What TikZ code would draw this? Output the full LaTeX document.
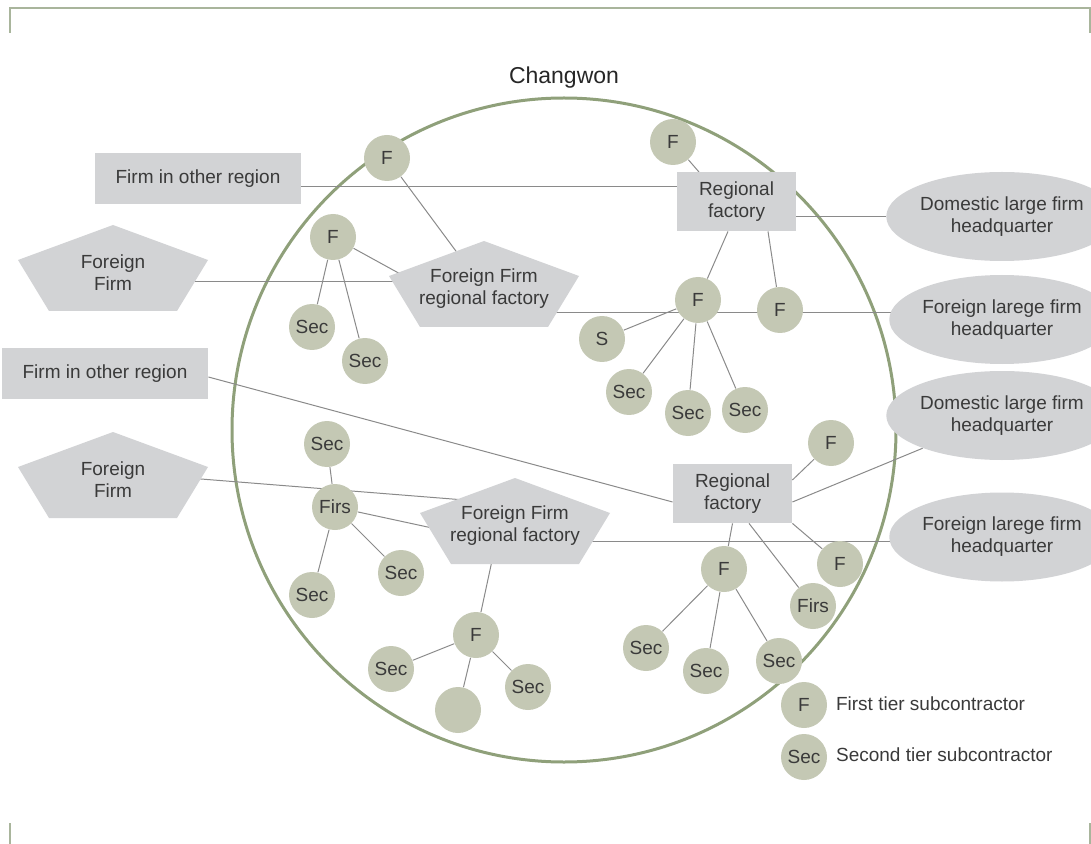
\documentclass[tikz,border=0pt]{standalone}
\usepackage{fontspec}
\setmainfont{Liberation Sans}
\usepackage{xcolor}
\usepackage{tikz}
\usetikzlibrary{calc,shapes.geometric}
\definecolor{boxgray}{HTML}{D2D3D5}
\definecolor{subfill}{HTML}{C4C8B4}
\definecolor{ring}{HTML}{8FA07A}
\definecolor{linegray}{HTML}{8A8A8A}
\definecolor{framegreen}{HTML}{A9B59C}
\definecolor{textgray}{HTML}{3A3A3A}
\pgfdeclarelayer{bg}
\pgfdeclarelayer{mid}
\pgfsetlayers{bg,mid,main}
\newcommand{\lab}{\fontsize{9.5}{11}\selectfont}
% pentagon behind a text node
\newcommand{\pentfill}[1]{\fill[boxgray] ($(#1)+(0,-48)$) -- ($(#1)+(95,-13)$) -- ($(#1)+(64,38)$) -- ($(#1)+(-64,38)$) -- ($(#1)+(-95,-13)$) -- cycle;}
\tikzset{
  firm/.style={circle, fill=subfill, minimum size=23pt, inner sep=0pt, text=textgray, font=\lab},
  box/.style={rectangle, fill=boxgray, inner sep=0pt, align=center, text=textgray, font=\lab},
  hq/.style={ellipse, fill=boxgray, minimum width=96pt, minimum height=44.5pt, inner sep=0pt, align=center, text=textgray, font=\lab},
  pent/.style={inner sep=1pt, align=center, text=textgray, font=\lab},
  link/.style={draw=linegray, line width=0.5pt},
}
\begin{document}
\begin{tikzpicture}[x=0.5pt, y=-0.5pt]
  \useasboundingbox (0,0) rectangle (1091,844);
  \node[text=black!85, font=\fontsize{11.5}{13}\selectfont] (title) at (564,78) {Changwon};

  % outside boxes
  \node[box, minimum width=103pt, minimum height=25.5pt] (fo1) at (198,178.5) {Firm in other region};
  \node[box, minimum width=103pt, minimum height=25.5pt] (fo2) at (105,373.5) {Firm in other region};
  \node[pent] (ff1) at (113,273) {Foreign\\Firm};
  \node[pent] (ff2) at (113,480) {Foreign\\Firm};
  \node[hq] (dom1) at (1002,216.5) {Domestic large firm\\headquarter};
  \node[hq] (for1) at (1002,319.5) {Foreign larege firm\\headquarter};
  \node[hq] (dom2) at (1002,415.5) {Domestic large firm\\headquarter};
  \node[hq] (for2) at (1002,537) {Foreign larege firm\\headquarter};

  % factories
  \node[box, minimum width=59.5pt, minimum height=29.5pt] (rf1) at (736.5,201.5) {Regional\\factory};
  \node[box, minimum width=59.5pt, minimum height=29.5pt] (rf2) at (732.5,493.5) {Regional\\factory};
  \node[pent] (ffrf1) at (484,289) {Foreign Firm\\regional factory};
  \node[pent] (ffrf2) at (515,526) {Foreign Firm\\regional factory};

  % subcontractors, upper half
  \node[firm] (fA) at (387,158) {F};
  \node[firm] (fB) at (333,237) {F};
  \node[firm] (secA) at (312,327) {Sec};
  \node[firm] (secB) at (365,361) {Sec};
  \node[firm] (fC) at (673,142) {F};
  \node[firm] (fD) at (698,300) {F};
  \node[firm] (fE) at (780,310) {F};
  \node[firm] (sA) at (602,339) {S};
  \node[firm] (secC) at (629,392) {Sec};
  \node[firm] (secD) at (688,413) {Sec};
  \node[firm] (secE) at (745,410) {Sec};

  % subcontractors, lower half
  \node[firm] (secF) at (327,444) {Sec};
  \node[firm] (firsA) at (335,507) {Firs};
  \node[firm] (secG) at (401,573) {Sec};
  \node[firm] (secH) at (312,595) {Sec};
  \node[firm] (fF) at (476,635) {F};
  \node[firm] (secI) at (391,669) {Sec};
  \node[firm] (blank) at (458,710) {};
  \node[firm] (secJ) at (528,687) {Sec};
  \node[firm] (fG) at (831,443) {F};
  \node[firm] (fH) at (840,564) {F};
  \node[firm] (firsB) at (813,606) {Firs};
  \node[firm] (fI) at (724,569) {F};
  \node[firm] (secK) at (646,648) {Sec};
  \node[firm] (secL) at (706,671) {Sec};
  \node[firm] (secM) at (779,661) {Sec};

  % legend
  \node[firm] (legF) at (804,705) {F};
  \node[firm] (legSec) at (804,757) {Sec};
  \node[anchor=west, text=textgray, font=\lab] (legFtxt) at (829,704) {First tier subcontractor};
  \node[anchor=west, text=textgray, font=\lab] (legSectxt) at (829,755) {Second tier subcontractor};

  \begin{pgfonlayer}{mid}
    \pentfill{ff1}
    \pentfill{ff2}
    \pentfill{ffrf1}
    \pentfill{ffrf2}
  \end{pgfonlayer}

  \begin{pgfonlayer}{bg}
    % frame and region
    \draw[framegreen, line width=1pt] (10,33) -- (10,8) -- (1090,8) -- (1090,33);
    \draw[framegreen, line width=1pt] (10,823) -- (10,844);
    \draw[framegreen, line width=1pt] (1090,823) -- (1090,844);
    \draw[ring, line width=1.5pt] (564,430) circle[radius=332];

    % upper links
    \draw[link] ([yshift=-4.25pt]fo1.east) -- ([yshift=7.25pt]rf1.west);
    \draw[link] (fA) -- (ffrf1);
    \draw[link] (fB) -- ($(ffrf1)+(-60,-2)$);
    \draw[link] (fB) -- (secA);
    \draw[link] (fB) -- (secB);
    \draw[link] ([yshift=-4.5pt]ff1.center) -- ([yshift=3.5pt]ffrf1.center);
    \draw[link] ([yshift=-12pt]ffrf1.center) -- ([yshift=3.25pt]for1.center);
    \draw[link] (fC) -- ($(rf1)+(-25,-15)$);
    \draw[link] (rf1.east |- dom1) -- (dom1);
    \draw[link] ([xshift=-4.25pt]rf1.south) -- (fD);
    \draw[link] ([xshift=15.75pt]rf1.south) -- (fE);
    \foreach \s in {sA,secC,secD,secE}
      \draw[link] (fD) -- (\s);

    % lower links
    \draw[link] ([yshift=-1.75pt]fo2.east) -- ([yshift=-4.25pt]rf2.west);
    \draw[link] ([yshift=4pt]ff2.center) -- ([yshift=11pt]ffrf2.center);
    \draw[link] (firsA) -- ($(ffrf2)+(-55,8)$);
    \foreach \s in {secF,secG,secH}
      \draw[link] (firsA) -- (\s);
    \draw[link] ($(ffrf2)+(-22,30)$) -- (fF);
    \foreach \s in {secI,blank,secJ}
      \draw[link] (fF) -- (\s);
    \draw[link] ([yshift=-7.5pt]ffrf2.center) -- ([yshift=-2pt]for2.center);
    \draw[link] ([yshift=6.75pt]rf2.east) -- (fG);
    \draw[link] ([yshift=-4.25pt]rf2.east) -- (dom2);
    \draw[link] (rf2.south) -- (fI);
    \draw[link] ([xshift=8.25pt]rf2.south) -- (firsB);
    \draw[link] (rf2.south east) -- (fH);
    \foreach \s in {secK,secL,secM}
      \draw[link] (fI) -- (\s);
  \end{pgfonlayer}
\end{tikzpicture}
\end{document}
